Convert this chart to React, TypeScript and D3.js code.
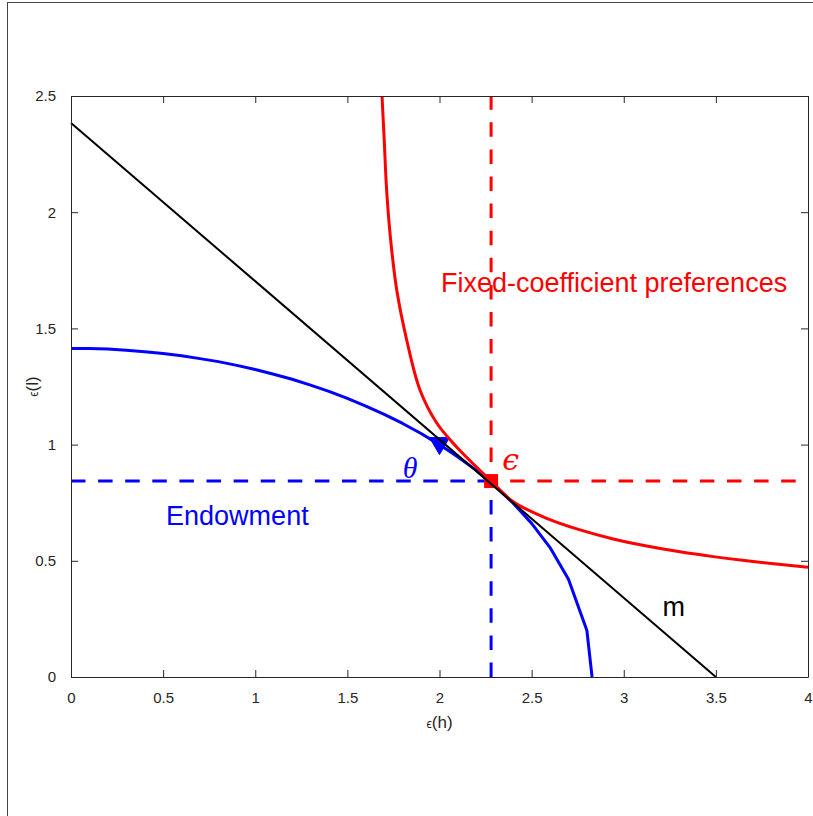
import { useEffect, useRef } from 'react';
import * as d3 from 'd3';

// axis ticks
const xTicks = [0, 0.5, 1, 1.5, 2, 2.5, 3, 3.5, 4];
const yTicks = [0, 0.5, 1, 1.5, 2, 2.5];

// endowment frontier (blue)
const endowX = [0, 0.1, 0.2, 0.3, 0.4, 0.5, 0.6, 0.7, 0.8, 0.9, 1.0, 1.1, 1.2, 1.3, 1.4, 1.5, 1.6, 1.7, 1.8, 1.9, 2.0, 2.1, 2.2, 2.3, 2.4, 2.5, 2.6, 2.7, 2.8, 2.828];
const endowY = [1.414, 1.413, 1.411, 1.406, 1.4, 1.392, 1.382, 1.37, 1.357, 1.341, 1.323, 1.303, 1.281, 1.256, 1.229, 1.199, 1.166, 1.13, 1.091, 1.048, 1.0, 0.947, 0.889, 0.823, 0.748, 0.661, 0.557, 0.421, 0.2, 0];

// indifference curve (red)
const prefX = [1.688, 1.7, 1.713, 1.735, 1.768, 1.822, 1.894, 1.985, 2.093, 2.28, 2.4, 2.582, 2.763, 2.943, 3.124, 3.305, 3.486, 3.667, 4.0];
const prefY = [2.5, 2.311, 2.096, 1.88, 1.665, 1.45, 1.235, 1.093, 0.99, 0.843, 0.754, 0.683, 0.633, 0.594, 0.564, 0.539, 0.518, 0.5, 0.472];

// price line m
const budgetX = [0, 3.5];
const budgetY = [2.384, 0];

// endowment point and theta marker
const endowPoint = [2.28, 0.843];
const thetaPoint = [2.0, 1.0];

const App = () => {
  const ref = useRef<SVGSVGElement>(null);

  useEffect(() => {
    const svg = d3.select(ref.current);
    svg.selectAll('*').remove();

    const width = 813;
    const height = 816;
    const margin = { top: 96, right: 5, bottom: 139, left: 71 };
    const axisColor = '#262626';
    const sans = '"Liberation Sans", Arial, sans-serif';
    const serif = '"Liberation Serif", "Times New Roman", serif';

    const x = d3.scaleLinear().domain([0, 4]).range([margin.left, width - margin.right]);
    const y = d3.scaleLinear().domain([0, 2.5]).range([height - margin.bottom, margin.top]);

    // outer frame
    svg
      .append('rect')
      .attr('x', 7.5)
      .attr('y', 2.5)
      .attr('width', 900)
      .attr('height', 900)
      .attr('fill', 'none')
      .attr('stroke', '#444')
      .attr('stroke-width', 1);

    const [xE, yE] = endowPoint;

    const dash = (x1: number, y1: number, x2: number, y2: number, color: string, offset = 0) =>
      svg
        .append('line')
        .attr('x1', x(x1))
        .attr('y1', y(y1))
        .attr('x2', x(x2))
        .attr('y2', y(y2))
        .attr('stroke', color)
        .attr('stroke-width', 3)
        .attr('stroke-dasharray', '14.5,12.6')
        .attr('stroke-dashoffset', offset);

    dash(0, yE, xE, yE, '#0000ff');
    dash(xE, 0, xE, yE, '#0000ff');
    dash(xE, yE, 4, yE, '#ff0000', 8);
    dash(xE, yE, xE, 2.5, '#ff0000', 8);

    const pts = (xs: number[], ys: number[]) => xs.map((v, i) => [v, ys[i]] as [number, number]);

    // blue frontier
    svg
      .append('path')
      .datum(pts(endowX, endowY))
      .attr('fill', 'none')
      .attr('stroke', '#0000ff')
      .attr('stroke-width', 3)
      .attr('stroke-linejoin', 'round')
      .attr('d', d3.line<[number, number]>().x((d) => x(d[0])).y((d) => y(d[1])));

    // theta marker (down triangle)
    svg
      .append('path')
      .attr('transform', `translate(${x(thetaPoint[0])},${y(thetaPoint[1])})`)
      .attr('d', 'M-10,-7 L10,-7 L0,10 Z')
      .attr('fill', '#0000ff')
      .attr('stroke', '#0000ff')
      .attr('stroke-width', 1);

    // red indifference curve
    svg
      .append('path')
      .datum(pts(prefX, prefY))
      .attr('fill', 'none')
      .attr('stroke', '#ff0000')
      .attr('stroke-width', 3)
      .attr(
        'd',
        d3
          .line<[number, number]>()
          .curve(d3.curveCatmullRom.alpha(0.5))
          .x((d) => x(d[0]))
          .y((d) => y(d[1]))
      );

    // endowment square
    svg
      .append('rect')
      .attr('x', x(xE) - 7)
      .attr('y', y(yE) - 7)
      .attr('width', 14)
      .attr('height', 14)
      .attr('fill', '#ff0000');

    // price line
    svg
      .append('line')
      .attr('x1', x(budgetX[0]))
      .attr('y1', y(budgetY[0]))
      .attr('x2', x(budgetX[1]))
      .attr('y2', y(budgetY[1]))
      .attr('stroke', '#000')
      .attr('stroke-width', 2);

    // axes box
    const g = svg.append('g').attr('color', axisColor);
    const styleAxis = (sel: d3.Selection<SVGGElement, unknown, null, undefined>, labels: boolean) => {
      sel.selectAll('path').attr('stroke-width', 1);
      sel.selectAll('text')
        .attr('font-family', sans)
        .attr('font-size', 15)
        .attr('fill', axisColor)
        .style('display', labels ? null : 'none');
    };

    g.append('g')
      .attr('transform', `translate(0,${y(0)})`)
      .call(d3.axisBottom(x).tickValues(xTicks).tickSizeInner(-7).tickSizeOuter(0).tickPadding(15).tickFormat(d3.format('')))
      .call((s) => styleAxis(s, true));
    g.append('g')
      .attr('transform', `translate(0,${y(2.5)})`)
      .call(d3.axisTop(x).tickValues(xTicks).tickSizeInner(-7).tickSizeOuter(0))
      .call((s) => styleAxis(s, false));
    g.append('g')
      .attr('transform', `translate(${x(0)},0)`)
      .call(d3.axisLeft(y).tickValues(yTicks).tickSizeInner(-7).tickSizeOuter(0).tickPadding(15).tickFormat(d3.format('')))
      .call((s) => styleAxis(s, true));
    g.append('g')
      .attr('transform', `translate(${x(4)},0)`)
      .call(d3.axisRight(y).tickValues(yTicks).tickSizeInner(-7).tickSizeOuter(0))
      .call((s) => styleAxis(s, false));
    g.selectAll('.domain').attr('stroke', axisColor);
    g.selectAll('.tick line').attr('stroke', axisColor);

    // axis labels
    const xl = svg
      .append('text')
      .attr('x', (x(0) + x(4)) / 2)
      .attr('y', 728)
      .attr('text-anchor', 'middle')
      .attr('font-family', sans)
      .attr('fill', axisColor);
    xl.append('tspan').attr('font-size', 12).text('ϵ');
    xl.append('tspan').attr('font-size', 17).text('(h)');

    const yl = svg
      .append('text')
      .attr('transform', `translate(38,${(y(0) + y(2.5)) / 2}) rotate(-90)`)
      .attr('text-anchor', 'middle')
      .attr('font-family', sans)
      .attr('fill', axisColor);
    yl.append('tspan').attr('font-size', 12).text('ϵ');
    yl.append('tspan').attr('font-size', 17).text('(l)');

    // annotations
    svg
      .append('text')
      .attr('x', x(2.008))
      .attr('y', y(1.657))
      .attr('font-family', sans)
      .attr('font-size', 27)
      .attr('fill', '#ff0000')
      .text('Fixed-coefficient preferences');
    svg
      .append('text')
      .attr('x', x(0.516))
      .attr('y', y(0.654))
      .attr('font-family', sans)
      .attr('font-size', 27)
      .attr('fill', '#0000ff')
      .text('Endowment');
    svg
      .append('text')
      .attr('x', x(3.21))
      .attr('y', y(0.262))
      .attr('font-family', sans)
      .attr('font-size', 27)
      .attr('fill', '#000')
      .text('m');
    svg
      .append('text')
      .attr('x', x(1.8))
      .attr('y', y(0.856))
      .attr('font-family', serif)
      .attr('font-style', 'italic')
      .attr('font-size', 30)
      .attr('fill', '#0000ff')
      .text('θ');
    svg
      .append('text')
      .attr('x', x(2.34))
      .attr('y', y(0.89))
      .attr('font-family', '"DejaVu Serif", serif')
      .attr('font-style', 'italic')
      .attr('font-size', 30)
      .attr('fill', '#ff0000')
      .text('ϵ');
  }, []);

  return (
    <svg
      ref={ref}
      width={813}
      height={816}
      style={{ position: 'absolute', left: 0, top: 0, background: '#fff' }}
    />
  );
};

export default App;
